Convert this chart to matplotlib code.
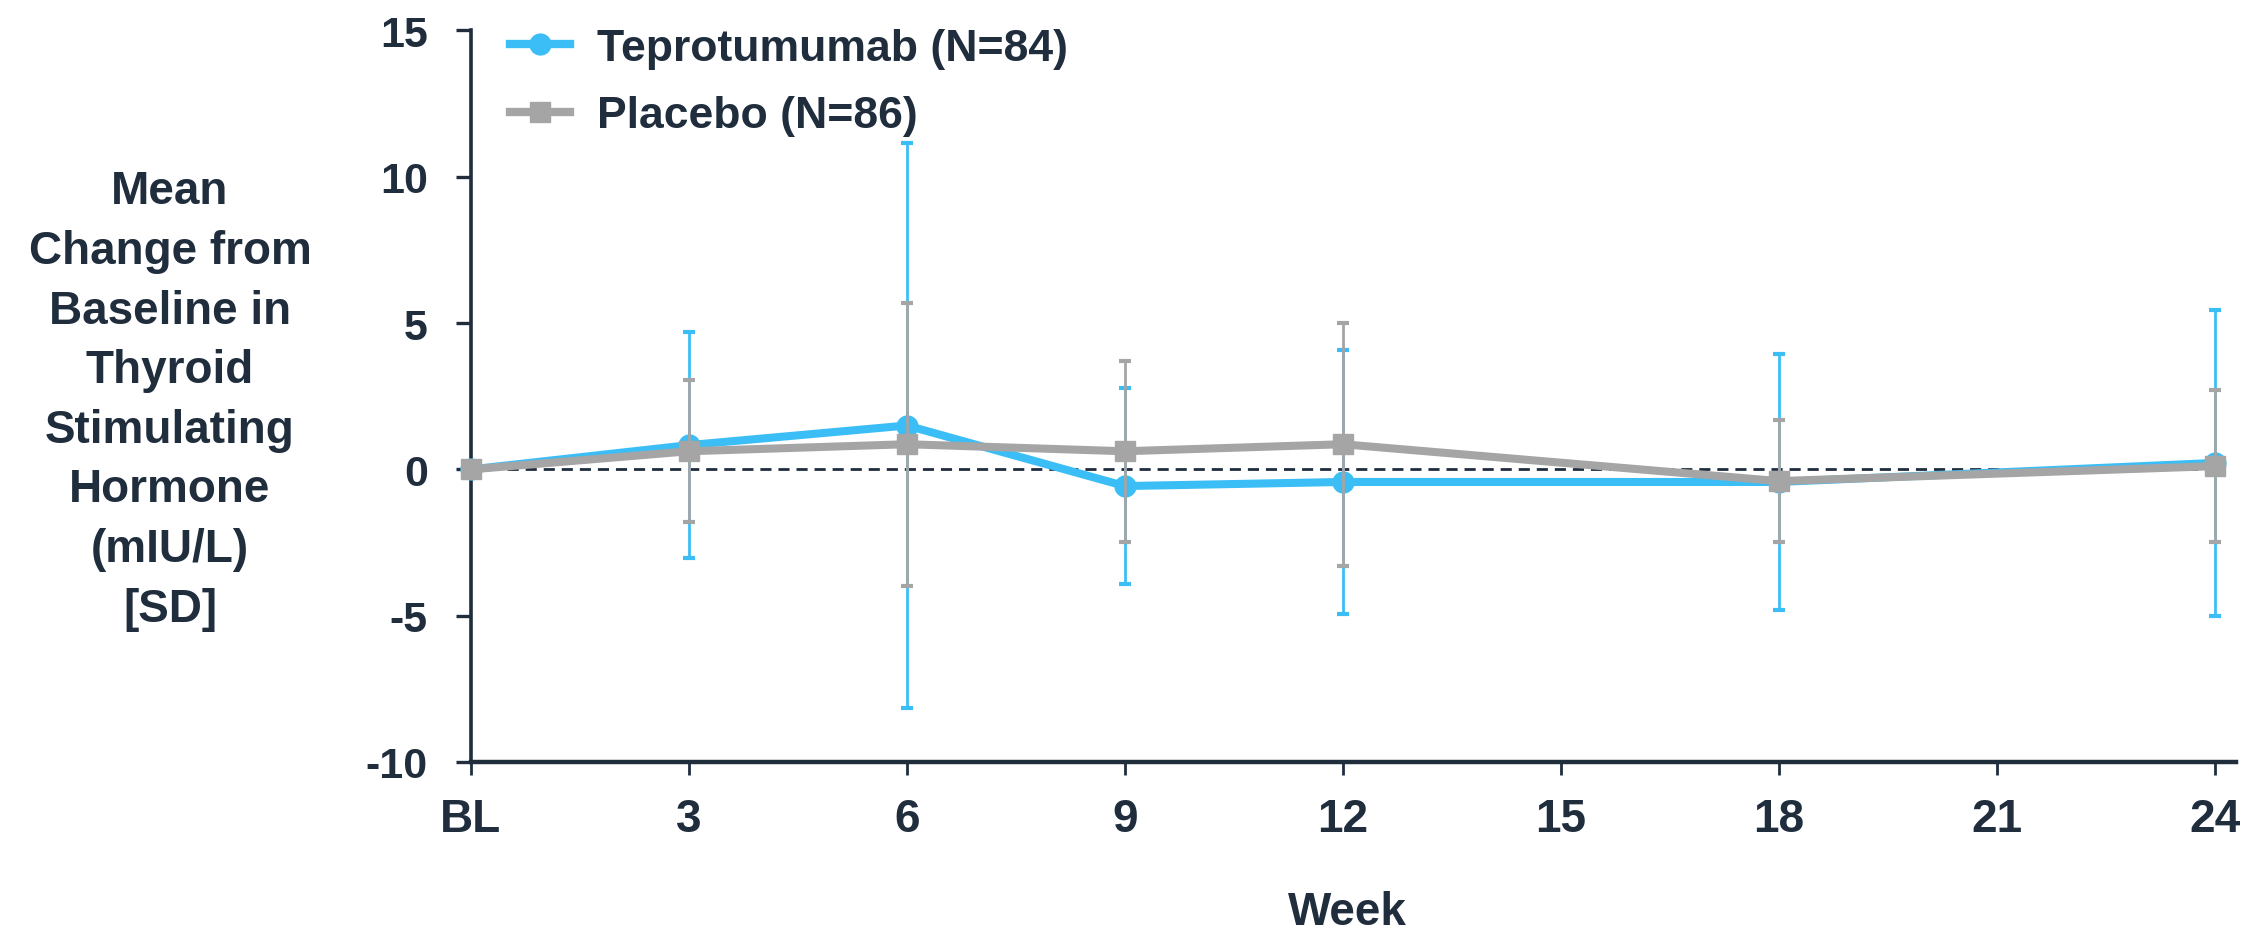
# -*- coding: utf-8 -*-
"""
    TSH mean change from baseline, teprotumumab vs placebo
"""

import matplotlib
matplotlib.use("Agg")
import matplotlib.pyplot as plt
from matplotlib.lines import Line2D

#========== DATA ==========#

weeks = [0, 3, 6, 9, 12, 18, 24]
tick_weeks = [0, 3, 6, 9, 12, 15, 18, 21, 24]
tick_labels = ["BL", "3", "6", "9", "12", "15", "18", "21", "24"]

tep_mean = [0, 0.83, 1.5, -0.57, -0.43, -0.43, 0.22]
tep_sd = [0, 3.85, 9.65, 3.34, 4.5, 4.36, 5.22]

pla_mean = [0, 0.62, 0.86, 0.62, 0.86, -0.4, 0.11]
pla_sd = [0, 2.42, 4.84, 3.1, 4.16, 2.08, 2.59]

tep_label = "Teprotumumab (N=84)"
pla_label = "Placebo (N=86)"

#========== STYLE ==========#

BLUE = "#3bbef6"
GREY = "#a5a5a5"
NAVY = "#1f2d3d"

plt.rcParams["font.family"] = ["Liberation Sans", "DejaVu Sans"]
plt.rcParams["font.weight"] = "bold"


def main():
    fig = plt.figure(figsize=(22.46, 9.37), dpi=100)
    ax = fig.add_axes([0.2097, 0.1857, 0.786, 0.7807])

    ax.hlines(0, weeks[0], weeks[-1], colors=NAVY, linestyles=(0, (4, 2.5)),
              linewidth=2, zorder=1)

    ax.errorbar(weeks, tep_mean, yerr=tep_sd, color=BLUE, ecolor=BLUE,
                linewidth=5.8, marker="o", markersize=15, elinewidth=2,
                capsize=4, capthick=3, clip_on=False, zorder=3)
    ax.errorbar(weeks, pla_mean, yerr=pla_sd, color=GREY, ecolor=GREY,
                linewidth=5.8, marker="s", markersize=14, elinewidth=2,
                capsize=4, capthick=3, clip_on=False, zorder=4)

    ax.set_xlim(0, 24.3)
    ax.set_ylim(-10, 15)
    ax.set_xticks(tick_weeks)
    ax.set_xticklabels(tick_labels)
    ax.set_yticks([-10, -5, 0, 5, 10, 15])
    ax.set_yticklabels(["-10", "-5", "0", "5", "10", "15"])

    for side in ["top", "right"]:
        ax.spines[side].set_visible(False)
    ax.spines["left"].set_color(NAVY)
    ax.spines["left"].set_linewidth(2.6)
    ax.spines["bottom"].set_color(NAVY)
    ax.spines["bottom"].set_linewidth(3.2)

    ax.tick_params(axis="x", colors=NAVY, length=9, width=2, pad=16,
                   labelsize=33)
    ax.tick_params(axis="y", colors=NAVY, length=11, width=2.4, pad=20,
                   labelsize=31)

    fig.text(170 / 2246, 1 - 401 / 937,
             "Mean\nChange from\nBaseline in\nThyroid\nStimulating\nHormone\n(mIU/L)\n[SD]",
             ha="center", va="center", multialignment="center",
             fontsize=33, color=NAVY, linespacing=1.46)
    fig.text(0.5997, 1.5 / 937, "Week", ha="center", va="bottom",
             fontsize=33, color=NAVY)

    handles = [
        Line2D([], [], color=BLUE, linewidth=6, marker="o", markersize=15),
        Line2D([], [], color=GREY, linewidth=6, marker="s", markersize=14),
    ]
    leg = ax.legend(handles, [tep_label, pla_label], loc="upper left",
                    bbox_to_anchor=(0.012, 1.028), frameon=False, fontsize=32,
                    handlelength=1.35, handletextpad=0.6, labelspacing=0.6,
                    borderaxespad=0)
    for text in leg.get_texts():
        text.set_color(NAVY)

    fig.savefig("out.png", dpi=100)


if __name__ == "__main__":
    main()
